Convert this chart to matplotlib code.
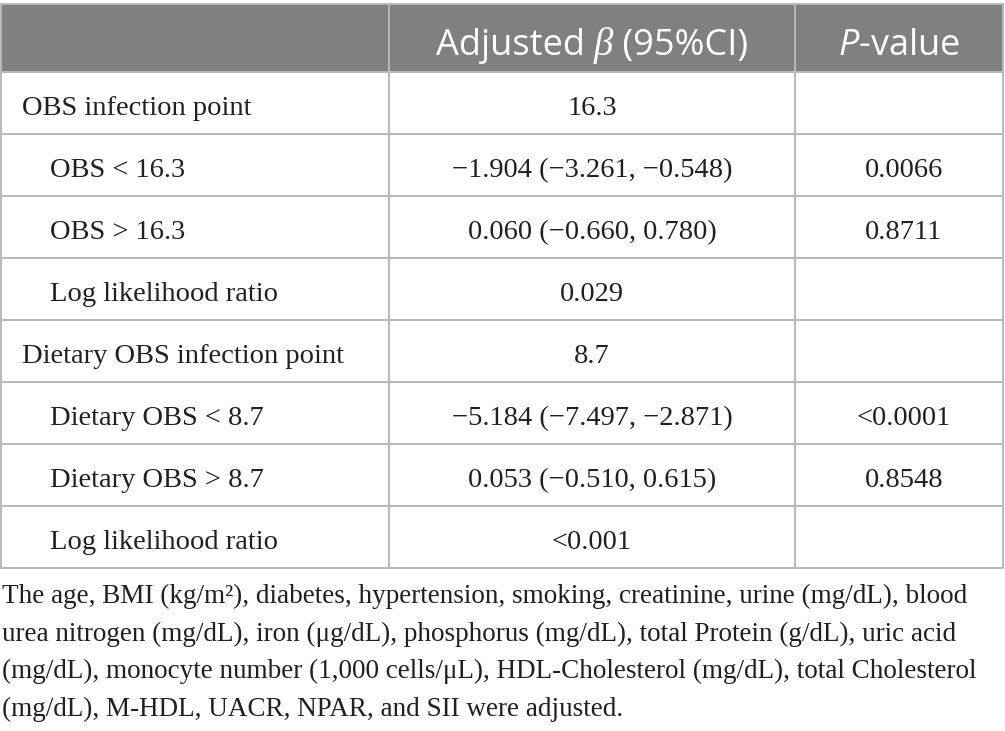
import matplotlib
matplotlib.use("Agg")
import matplotlib.pyplot as plt
from matplotlib.patches import Rectangle

# Table contents
row_labels = ["OBS infection point", "OBS < 16.3", "OBS > 16.3", "Log likelihood ratio",
              "Dietary OBS infection point", "Dietary OBS < 8.7", "Dietary OBS > 8.7",
              "Log likelihood ratio"]
row_indent = [False, True, True, True, False, True, True, True]
beta_ci = ["16.3", "\u22121.904 (\u22123.261, \u22120.548)", "0.060 (\u22120.660, 0.780)", "0.029",
           "8.7", "\u22125.184 (\u22127.497, \u22122.871)", "0.053 (\u22120.510, 0.615)", "<0.001"]
p_values = ["", "0.0066", "0.8711", "", "", "<0.0001", "0.8548", ""]
# header pieces: (text, family, style)
head_beta = [("Adjusted ", "Open Sans", "normal"), ("\u03b2", "Liberation Serif", "italic"),
             (" (95%CI)", "Open Sans", "normal")]
head_p = "$\\mathit{P}$-value"
footnote = [
    "The age, BMI (kg/m\u00b2), diabetes, hypertension, smoking, creatinine, urine (mg/dL), blood",
    "urea nitrogen (mg/dL), iron (\u03bcg/dL), phosphorus (mg/dL), total Protein (g/dL), uric acid",
    "(mg/dL), monocyte number (1,000 cells/\u03bcL), HDL-Cholesterol (mg/dL), total Cholesterol",
    "(mg/dL), M-HDL, UACR, NPAR, and SII were adjusted.",
]

plt.rcParams["mathtext.fontset"] = "custom"
plt.rcParams["mathtext.rm"] = "Open Sans"
plt.rcParams["mathtext.it"] = "Open Sans:italic"

W, H = 1005, 731
fig = plt.figure(figsize=(W / 100, H / 100), dpi=100)
ax = fig.add_axes([0, 0, 1, 1])
ax.set_xlim(0, W)
ax.set_ylim(H, 0)
ax.axis("off")

txt = "#231f20"
grid = "#b9b9b9"
head_bg = "#808080"

col_x = [1, 389, 795, 1003]
top, head_h, row_h = 4, 68, 62
n = len(row_labels)
bottom = top + head_h + n * row_h
head_base = 55

# header band
ax.add_patch(Rectangle((col_x[0], top), col_x[-1] - col_x[0], head_h,
                       facecolor=head_bg, edgecolor="none"))

# "Adjusted β (95%CI)" built from pieces so β can be serif italic
renderer = fig.canvas.get_renderer()
objs = []
for s, fam, sty in head_beta:
    t = ax.text(0, head_base, s, color="white", fontsize=26 if fam == "Open Sans" else 28,
                family=fam, style=sty, ha="left", va="baseline")
    objs.append(t)
widths = [t.get_window_extent(renderer).width for t in objs]
x = (col_x[1] + col_x[2]) / 2 - sum(widths) / 2
for t, w in zip(objs, widths):
    t.set_x(x)
    x += w

ax.text((col_x[2] + col_x[3]) / 2, head_base, head_p, color="white",
        fontsize=26, family="Open Sans", ha="center", va="baseline")

# grid lines
lw = 1.4
ax.plot([col_x[0], col_x[-1]], [top, top], color=grid, lw=lw)
for i in range(n + 1):
    y = top + head_h + i * row_h
    ax.plot([col_x[0], col_x[-1]], [y, y], color=grid, lw=lw)
for xv in col_x:
    ax.plot([xv, xv], [top, bottom], color=grid, lw=lw)

# body text
fs = 20.5
for i in range(n):
    yb = top + head_h + (i + 0.5) * row_h + 12
    x0 = 50 if row_indent[i] else 22
    ax.text(x0, yb, row_labels[i], color=txt, fontsize=fs,
            family="Liberation Serif", ha="left", va="baseline")
    ax.text((col_x[1] + col_x[2]) / 2, yb, beta_ci[i], color=txt, fontsize=fs,
            family="Liberation Serif", ha="center", va="baseline")
    if p_values[i]:
        ax.text((col_x[2] + col_x[3]) / 2 + 5, yb, p_values[i], color=txt, fontsize=fs,
                family="Liberation Serif", ha="center", va="baseline")

# footnote
for k, line in enumerate(footnote):
    ax.text(2, 603 + k * 37.7, line, color=txt, fontsize=19.5,
            family="Liberation Serif", ha="left", va="baseline")

fig.savefig("out.png", dpi=100)
